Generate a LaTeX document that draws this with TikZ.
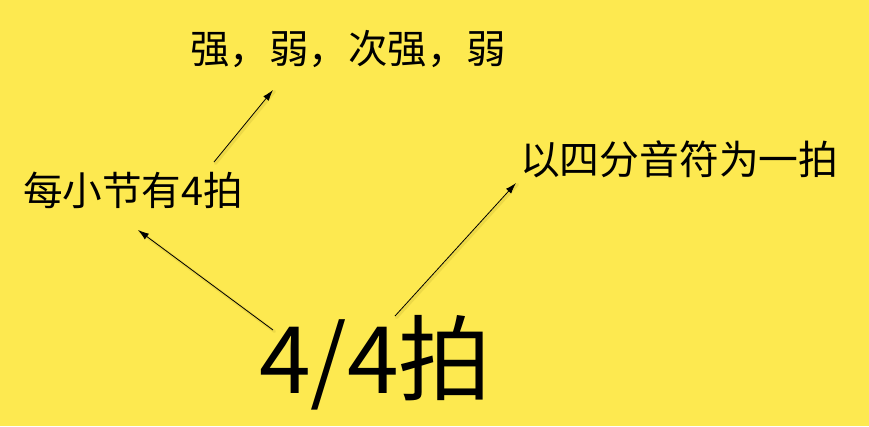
\documentclass[tikz,border=0pt]{standalone}
\usepackage{fontspec}
\setmainfont{Noto Sans CJK SC}
\usepackage{tikz}
\usetikzlibrary{arrows.meta}
\definecolor{bgyellow}{RGB}{253,233,80}
\definecolor{shadowyel}{RGB}{150,130,20}

\begin{document}
\begin{tikzpicture}[x=1pt,y=-1pt,
  txt/.style={inner sep=0pt,outer sep=0pt,anchor=base west,font=\fontsize{#1}{#1}\selectfont},
  arr/.style={line width=0.8pt,-{Latex[length=11pt,width=7pt]}},
  arrshadow/.style={line width=3pt,draw=shadowyel,opacity=0.15,line cap=round}]
\fill[bgyellow] (0,0) rectangle (869,426);
\useasboundingbox (0,0) rectangle (869,426);
% labels
\node[txt=39.5] (accent) at (190,63) {强，弱，次强，弱};
\node[txt=39.6] (perbar) at (23,205) {每小节有4拍};
\node[txt=39.8] (quarter) at (520,174) {以四分音符为一拍};
\node[txt=93] (beat) at (259,393) {4/4拍};
% arrow ends
\coordinate (beatL) at (273,330);
\coordinate (beatR) at (395,316);
\coordinate (perbarT) at (214,162);
\coordinate (perbarB) at (138,230);
\coordinate (quarterB) at (516,183);
\coordinate (accentB) at (273,90);
% shadows under the arrows
\foreach \a/\b in {beatL/perbarB,beatR/quarterB,perbarT/accentB}{
   \draw[arrshadow] ([shift={(1.5,1.5)}]\a) -- ([shift={(1.5,1.5)}]\b);
}
\draw[arr] (beatL) -- (perbarB);
\draw[arr] (beatR) -- (quarterB);
\draw[arr] (perbarT) -- (accentB);
\end{tikzpicture}
\end{document}
